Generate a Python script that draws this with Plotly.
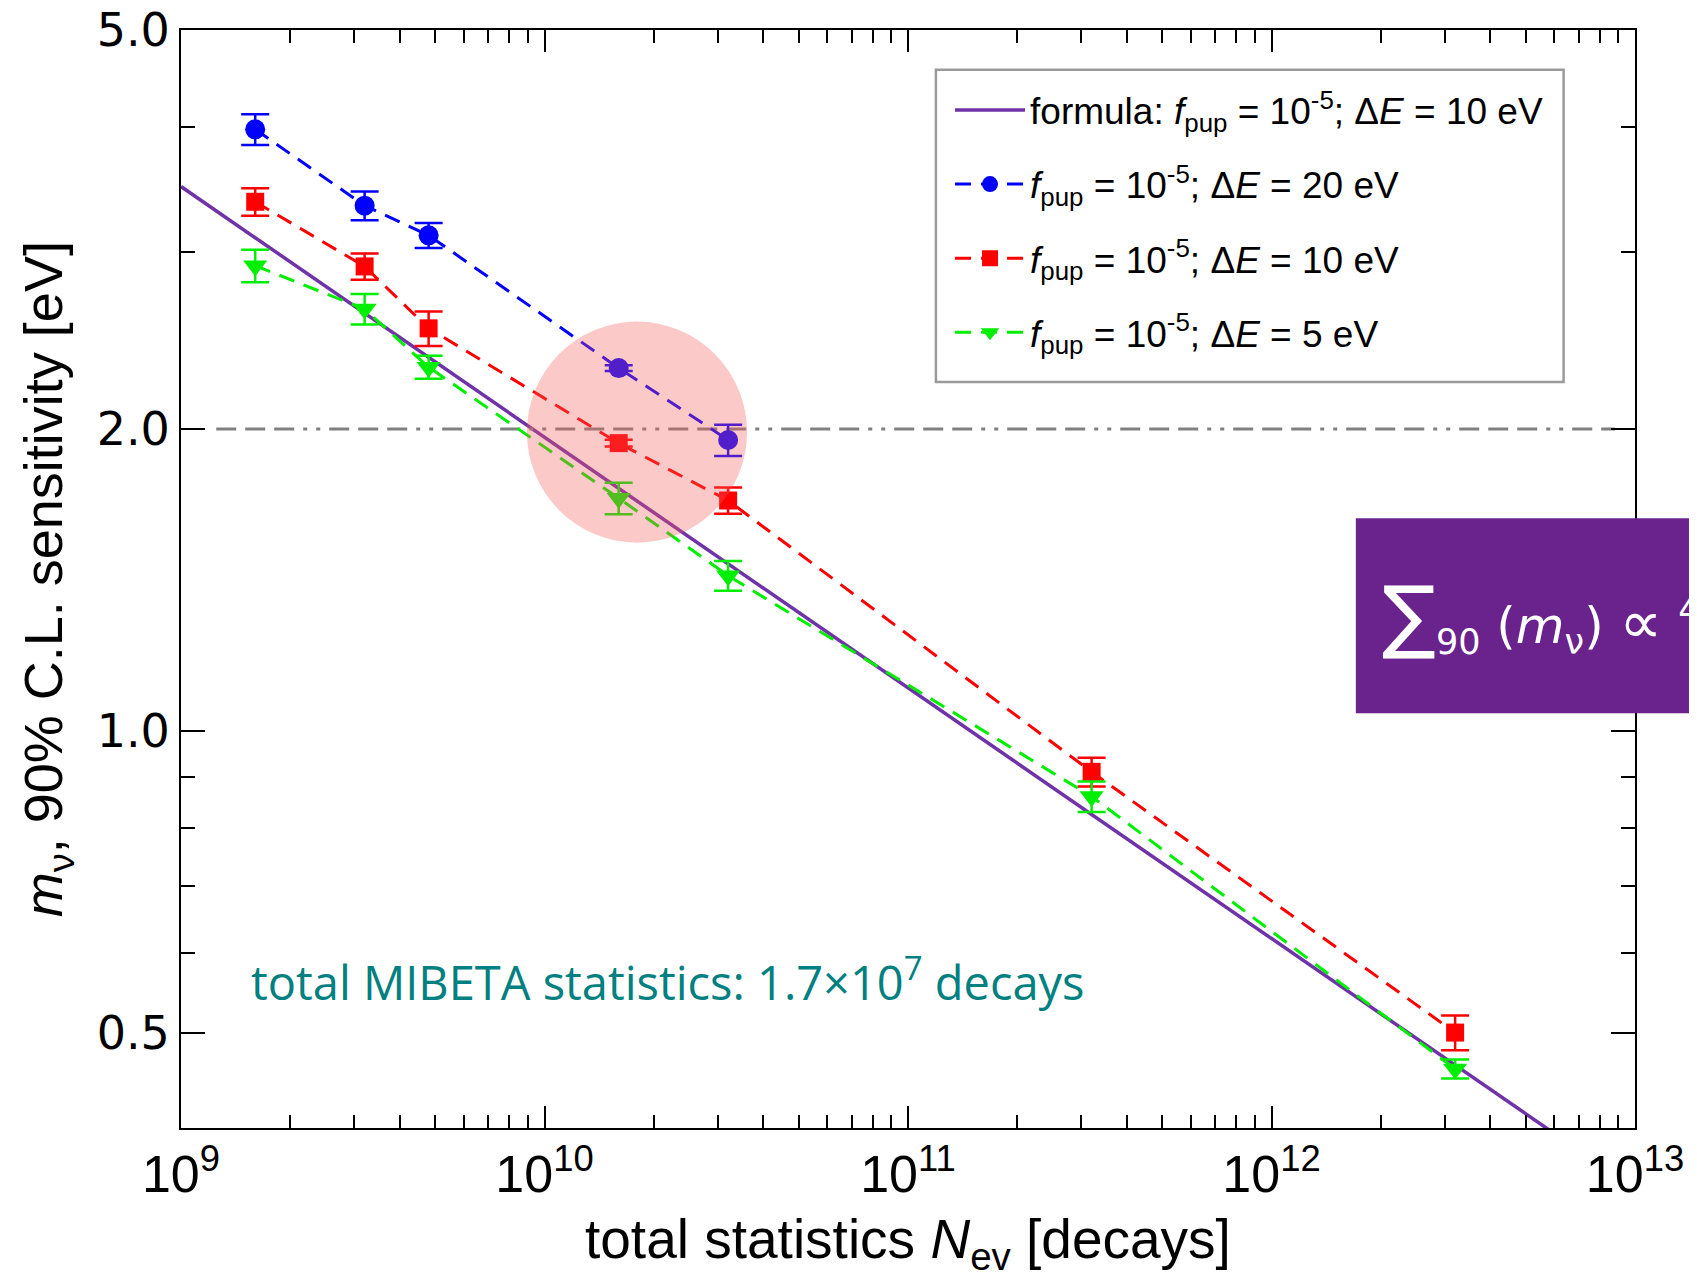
import plotly.graph_objects as go

# ---------------- data ----------------
x_blue = [1.6e9, 3.2e9, 4.8e9, 1.6e10, 3.2e10]
y_blue = [3.98, 3.34, 3.12, 2.30, 1.95]
e_blue = [0.14, 0.11, 0.09, 0.015, 0.07]

x_red = [1.6e9, 3.2e9, 4.8e9, 1.6e10, 3.2e10, 3.2e11, 3.2e12]
y_red = [3.37, 2.905, 2.52, 1.936, 1.697, 0.91, 0.50]
e_red = [0.107, 0.087, 0.10, 0.015, 0.051, 0.030, 0.020]

x_green = [1.6e9, 3.2e9, 4.8e9, 1.6e10, 3.2e10, 3.2e11, 3.2e12]
y_green = [2.91, 2.634, 2.305, 1.706, 1.428, 0.860, 0.460]
e_green = [0.109, 0.092, 0.061, 0.062, 0.049, 0.030, 0.010]

formula_x = [1e9, 1e13]
formula_y = [3.49, 0.349]

limit_x = [1.25e9, 8.8e12]
limit_y = [2.0, 2.0]

x_tickvals = [1e9, 1e10, 1e11, 1e12, 1e13]
x_ticktext = ["10<sup>9</sup>", "10<sup>10</sup>", "10<sup>11</sup>", "10<sup>12</sup>", "10<sup>13</sup>"]
x_minor = [m * 10 ** d for d in range(9, 13) for m in range(2, 10)]
y_tickvals = [0.5, 1.0, 2.0, 5.0]
y_ticktext = ["0.5", "1.0", "2.0", "5.0"]
y_minor = [0.6, 0.7, 0.8, 0.9, 3.0, 4.0]

SANS = "Liberation Sans, Arial, sans-serif"
leg = "<i>f</i><sub>pup</sub> = 10<sup>-5</sup>; Δ<i>E</i> = "

fig = go.Figure()

fig.add_trace(go.Scatter(
    x=formula_x, y=formula_y, mode="lines", legendgroup="g0",
    line=dict(color="#7032a8", width=3.5),
    name="formula: " + leg + "10 eV"))

fig.add_trace(go.Scatter(
    x=limit_x, y=limit_y, mode="lines", showlegend=False,
    line=dict(color="#808080", width=3,
              dash="20px,9px,20px,9px,20px,9px,4px,9px,4px,9px")))

def data_trace(x, y, e, color, symbol, size, name, grp):
    return go.Scatter(
        x=x, y=y, mode="lines+markers", name=name, legendgroup=grp,
        line=dict(color=color, width=3, dash="16px,10px"),
        marker=dict(color=color, symbol=symbol, size=size),
        error_y=dict(type="data", array=e, visible=True,
                     color=color, thickness=2.5, width=14))

fig.add_trace(data_trace(x_blue, y_blue, e_blue, "#0000ff", "circle", 20, leg + "20 eV", "g1"))
fig.add_trace(data_trace(x_red, y_red, e_red, "#ff0000", "square", 18, leg + "10 eV", "g2"))
fig.add_trace(data_trace(x_green, y_green, e_green, "#00ee00", "triangle-down", 21, leg + "5 eV", "g3"))

fig.update_xaxes(
    type="log", range=[9, 13], automargin=False, ticklabeloverflow="allow",
    tickvals=x_tickvals, ticktext=x_ticktext,
    tickfont=dict(family=SANS, size=52, color="black"),
    ticks="inside", ticklen=22, tickwidth=2, tickcolor="black",
    minor=dict(tickvals=x_minor, ticks="inside", ticklen=13, tickwidth=1.5, tickcolor="black"),
    showline=True, linecolor="black", linewidth=2, mirror="allticks",
    showgrid=False, zeroline=False)

fig.update_yaxes(
    type="log", range=[-0.3962, 0.69897], automargin=False, ticklabeloverflow="allow",
    tickvals=y_tickvals, ticktext=y_ticktext,
    tickfont=dict(family="DejaVu Sans", size=46, color="black"),
    ticks="inside", ticklen=24, tickwidth=2, tickcolor="black",
    minor=dict(tickvals=y_minor, ticks="inside", ticklen=14, tickwidth=1.5, tickcolor="black"),
    showline=True, linecolor="black", linewidth=2, mirror="allticks",
    showgrid=False, zeroline=False)

shapes = [
    # legend frame
    dict(type="rect", xref="paper", yref="paper",
         x0=0.5192, x1=0.9509, y0=0.6795, y1=0.9638,
         fillcolor="white", line=dict(color="#9a9a9a", width=2.5), layer="below"),
    # highlight circle
    dict(type="circle", xref="paper", yref="paper",
         x0=0.2379, x1=0.3893, y0=0.5331, y1=0.7345,
         fillcolor="rgba(245,90,90,0.33)", line=dict(width=0), layer="above"),
    # purple formula box (cropped at the right edge)
    dict(type="rect", xref="paper", yref="paper",
         x0=0.808, x1=1.2, y0=0.3777, y1=0.5553,
         fillcolor="#6a238c", line=dict(width=0), layer="above"),
]

annotations = [
    dict(xref="paper", yref="paper", x=0.5, y=-0.105, xanchor="center", yanchor="middle",
         text="total statistics <i>N</i><sub>ev</sub> [decays]", showarrow=False,
         font=dict(family=SANS, size=55, color="black")),
    dict(xref="paper", yref="paper", x=-0.092, y=0.5, xanchor="center", yanchor="middle",
         textangle=-90, text="<i>m</i><sub>ν</sub>, 90% C.L. sensitivity [eV]", showarrow=False,
         font=dict(family=SANS, size=54, color="black")),
    dict(xref="paper", yref="paper", x=0.047, y=0.135, xanchor="left", yanchor="middle",
         text="total MIBETA statistics: 1.7×10<sup>7</sup> decays", showarrow=False,
         font=dict(family="Open Sans", size=47, color="#008080")),
    dict(xref="paper", yref="paper", x=0.8244, y=0.4672, xanchor="left", yanchor="middle",
         text='<span style="font-size:80px">∑</span><sub>90</sub> (<i>m</i><sub>ν</sub>) '
              '<span style="font-size:60px">∝</span> <sup>4</sup>√10',
         showarrow=False, font=dict(family="DejaVu Sans", size=50, color="white")),
]

# the page body adds an 8 px margin, so the figure is 8 px smaller on each axis
fig.update_layout(
    width=1689, height=1274,
    margin=dict(l=173, r=62, t=22, b=154, autoexpand=False),
    paper_bgcolor="white", plot_bgcolor="white",
    shapes=shapes, annotations=annotations,
    legend=dict(x=0.5289, y=0.955, xanchor="left", yanchor="top",
                bgcolor="rgba(0,0,0,0)", borderwidth=0,
                font=dict(family=SANS, size=37, color="black"),
                itemwidth=70, tracegroupgap=23),
    showlegend=True,
)

fig.write_html("out.html")
